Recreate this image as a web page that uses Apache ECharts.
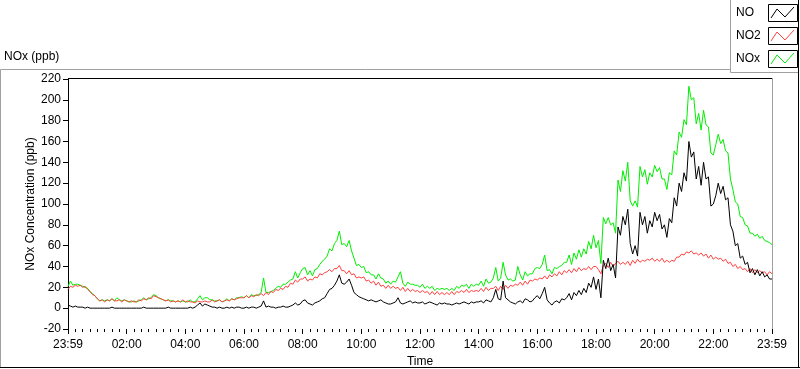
<!DOCTYPE html>
<html><head><meta charset="utf-8">
<script src="https://cdn.jsdelivr.net/npm/echarts@6/dist/echarts.min.js"></script>
<style>html,body{margin:0;padding:0;background:#fff}#c{width:800px;height:369px}</style>
</head><body><div id="c"></div>
<script>
// sampling step of the series (minutes from the first sample, labelled 23:59)
const STEP_MIN = 5;
const seriesNames = ['NO', 'NO2', 'NOx'];
const seriesColors = ['#000000', '#ff4040', '#00ee00'];
const xTickLabels = ['23:59','02:00','04:00','06:00','08:00','10:00','12:00','14:00','16:00','18:00','20:00','22:00','23:59'];
const yTicks = [-20,0,20,40,60,80,100,120,140,160,180,200,220];

const no = [
 3,2,1,2,1,1,1,0,1,0,0,0,
 0,0,0,0,0,0,1,0,0,0,0,0,
 0,0,0,0,0,0,0,1,0,0,0,0,
 0,0,0,0,0,1,0,0,0,0,0,0,
 0,0,1,0,1,3,5,2,4,3,2,1,
 1,0,1,0,0,1,0,1,0,1,1,0,
 0,1,0,1,1,0,1,2,7,1,2,1,
 1,0,1,1,2,1,1,2,3,5,3,4,
 7,8,5,4,3,5,6,7,9,10,14,18,
 19,22,26,32,24,23,25,28,22,15,13,11,
 10,9,8,7,8,7,6,7,8,6,5,4,
 4,5,6,10,5,4,5,6,7,5,6,5,
 5,6,4,5,6,5,4,3,5,4,5,4,
 4,3,4,5,4,5,6,5,4,6,5,6,
 6,7,5,8,7,6,10,18,9,8,26,10,
 8,6,5,4,6,7,5,9,8,6,7,10,
 12,9,14,20,8,5,3,6,7,5,9,8,
 10,14,8,15,12,17,13,19,15,24,20,30,
 18,28,10,46,38,48,36,42,29,78,70,88,
 80,95,62,52,60,50,92,80,88,72,84,78,
 92,84,90,76,80,68,86,82,106,98,120,112,
 130,122,160,145,150,124,136,118,140,124,126,98,
 100,108,120,110,117,104,106,80,74,60,62,48,
 50,42,44,34,38,32,37,31,35,30,32,28,
 28];

const no2 = [
 18,21,20,22,21,22,20,21,18,16,13,12,
 9,7,8,6,8,7,9,7,7,8,6,8,
 7,6,7,6,6,8,7,9,8,10,9,12,
 11,10,9,8,7,8,6,7,6,7,6,8,
 6,7,6,6,5,7,6,6,7,6,6,8,
 6,7,8,6,7,8,7,9,8,9,10,10,
 10,12,10,12,11,13,12,14,12,15,13,16,
 15,18,17,19,18,21,20,24,23,27,25,28,
 28,30,26,28,27,30,29,33,32,34,35,37,
 35,38,38,41,36,36,33,36,32,33,29,30,
 29,30,26,27,24,26,22,25,21,22,19,22,
 19,21,19,20,17,20,16,19,16,18,16,17,
 15,17,15,16,13,16,13,16,13,15,13,15,
 13,16,13,16,15,17,15,18,15,17,16,17,
 16,19,16,20,17,19,19,21,17,21,18,22,
 19,22,21,23,22,25,22,26,23,27,26,28,
 27,29,28,31,28,32,30,33,31,35,32,36,
 34,37,34,38,35,39,36,38,37,40,37,40,
 40,37,33,41,43,39,44,40,43,45,42,44,
 42,45,41,46,43,47,44,46,45,47,46,48,
 45,47,45,48,44,46,44,46,45,49,49,52,
 51,54,53,55,52,53,51,53,50,52,48,51,
 47,49,47,48,45,47,43,44,40,42,38,40,
 37,38,35,38,34,37,34,36,34,35,32,35,
 33];

const nox = [
 21,26,22,23,23,22,21,20,19,16,14,12,
 9,7,8,7,8,7,9,7,10,8,7,8,
 7,6,6,7,6,7,8,10,8,9,10,13,
 12,10,9,8,7,8,7,7,6,7,6,7,
 6,6,8,6,6,9,12,8,10,10,8,8,
 7,7,8,6,7,9,7,9,8,10,10,11,
 10,12,10,13,12,12,13,15,29,15,15,16,
 17,19,21,20,23,23,25,27,28,35,29,34,
 38,39,32,36,31,37,38,42,45,47,50,57,
 55,62,65,74,61,62,59,65,55,48,41,42,
 39,40,34,35,32,32,28,33,29,28,24,26,
 23,26,25,30,35,24,21,25,23,23,22,22,
 20,23,19,21,19,21,17,19,18,19,18,19,
 17,19,17,21,19,22,21,23,19,23,21,23,
 22,26,21,28,24,25,29,39,26,29,44,32,
 27,28,26,27,40,32,27,35,31,33,33,38,
 39,38,42,51,36,37,33,39,38,40,41,44,
 44,51,42,53,47,56,49,57,52,64,57,70,
 58,65,43,87,81,87,80,82,72,123,112,132,
 122,140,103,98,103,97,136,126,133,119,130,126,
 137,131,135,124,124,114,130,128,151,147,169,164,
 181,176,213,200,202,177,187,171,190,176,174,149,
 147,157,167,158,162,151,149,124,114,102,100,88,
 87,80,79,72,72,69,71,67,69,65,64,63,
 61];

const FONT = 'Liberation Sans';
const pairs = arr => arr.map((v, i) => [i * STEP_MIN, v]);
const valuesByName = { NO: no, NO2: no2, NOx: nox };

const chart = echarts.init(document.getElementById('c'), null, { renderer: 'canvas' });

// draw NOx first, then NO2, then NO on top
const drawOrder = ['NOx', 'NO2', 'NO'];
const series = drawOrder.map(name => ({
  name, type: 'line', data: pairs(valuesByName[name]),
  showSymbol: false, symbol: 'none', animation: false,
  lineStyle: { width: 1, color: seriesColors[seriesNames.indexOf(name)] },
  emphasis: { disabled: true }
}));

// legend graphic
const legendGraphics = [];
seriesNames.forEach((n, i) => {
  const y0 = 4 + i * 23;
  legendGraphics.push({ type: 'text', left: 736, top: y0 + 3, style: { text: n, font: '12px ' + FONT, fill: '#000' } });
  legendGraphics.push({ type: 'rect', shape: { x: 768.5, y: y0 + 0.5, width: 29, height: 17 }, style: { fill: '#fff', stroke: '#000', lineWidth: 1 } });
  legendGraphics.push({ type: 'polyline', shape: { points: [[771, y0 + 14], [777, y0 + 5], [785, y0 + 13], [794, y0 + 3]] }, style: { stroke: seriesColors[i], lineWidth: 1, fill: null } });
});

chart.setOption({
  backgroundColor: '#fff',
  animation: false,
  textStyle: { fontFamily: FONT },
  grid: { left: 68, right: 28, top: 79, height: 250, containLabel: false, outerBoundsMode: 'none' },
  xAxis: {
    type: 'value', min: 0, max: 1440, interval: 120,
    name: 'Time', nameLocation: 'middle', nameGap: 27, nameMoveOverlap: false,
    nameTextStyle: { fontFamily: FONT, fontSize: 12, color: '#000' },
    axisLine: { show: false, onZero: false },
    axisTick: { show: true, length: 5, lineStyle: { color: '#000' } },
    minorTick: { show: true, splitNumber: 8, length: 3, lineStyle: { color: '#000' } },
    splitLine: { show: false },
    axisLabel: { fontFamily: FONT, fontSize: 12, color: '#000', margin: 10,
      formatter: v => xTickLabels[Math.round(v / 120)] }
  },
  yAxis: {
    type: 'value', min: yTicks[0], max: yTicks[yTicks.length - 1], interval: 20,
    name: 'NOx Concentration (ppb)', nameLocation: 'middle', nameGap: 31, nameRotate: 90, nameMoveOverlap: false,
    nameTextStyle: { fontFamily: FONT, fontSize: 12, color: '#000' },
    axisLine: { show: true, lineStyle: { color: '#000' } },
    axisTick: { show: true, length: 5, lineStyle: { color: '#000' } },
    splitLine: { show: false },
    axisLabel: { fontFamily: FONT, fontSize: 12, color: '#000', margin: 7 }
  },
  series,
  graphic: [
    { type: 'text', left: 4, top: 51, style: { text: 'NOx (ppb)', font: '12px ' + FONT, fill: '#000' } },
    // outer frame
    { type: 'polyline', shape: { points: [[0.5, 367], [0.5, 69.5], [731, 69.5]] }, style: { stroke: '#a0a0a0', lineWidth: 1, fill: null } },
    { type: 'line', shape: { x1: 0, y1: 367.5, x2: 800, y2: 367.5 }, style: { stroke: '#000', lineWidth: 1 } },
    { type: 'line', shape: { x1: 798.5, y1: 0, x2: 798.5, y2: 368 }, style: { stroke: '#000', lineWidth: 1 } },
    // legend box
    { type: 'polyline', shape: { points: [[730.5, 0], [730.5, 72.5], [798, 72.5]] }, style: { stroke: '#a0a0a0', lineWidth: 1, fill: null } },
    // plot frame top and right
    { type: 'line', shape: { x1: 68, y1: 78.5, x2: 772, y2: 78.5 }, style: { stroke: '#000', lineWidth: 1 } },
    { type: 'line', shape: { x1: 772.5, y1: 78, x2: 772.5, y2: 330 }, style: { stroke: '#a0a0a0', lineWidth: 1 } }
  ].concat(legendGraphics)
});
</script>
</body></html>
